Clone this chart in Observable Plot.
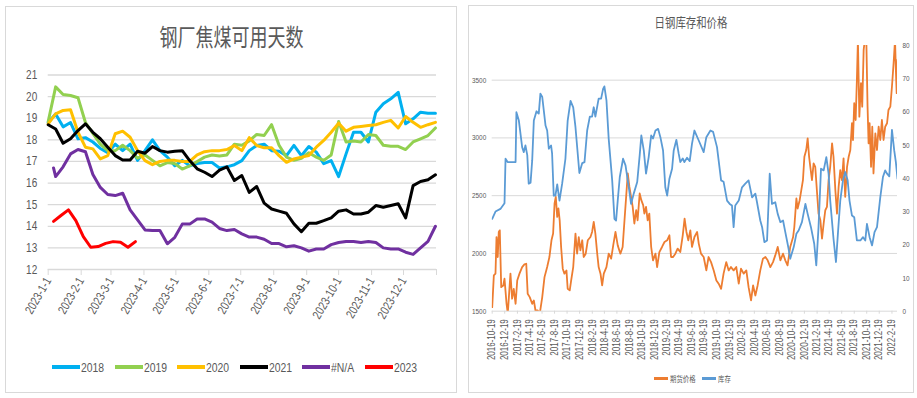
<!DOCTYPE html>
<html><head><meta charset="utf-8">
<script src="https://cdn.jsdelivr.net/npm/d3@7"></script>
<script src="https://cdn.jsdelivr.net/npm/@observablehq/plot@0.6"></script>
<style>
body{margin:0;background:#fff;width:917px;height:398px;overflow:hidden;position:relative;color:#595959}
.panel{position:absolute;border:1px solid #d9d9d9;box-sizing:border-box;background:#fff}
.title{position:absolute;white-space:nowrap;text-align:center;font-family:'Noto Sans CJK SC',sans-serif;color:#595959;transform-origin:center}
.legend{position:absolute;display:flex;align-items:center;white-space:nowrap}
.it{display:flex;align-items:center;flex:none}
.it i{display:inline-block;flex:none}
.it b{font-weight:normal;display:inline-block;transform-origin:left center}
.chart{position:absolute}
</style></head>
<body>
<div class="panel" style="left:5px;top:6px;width:452px;height:387px"></div>
<div class="panel" style="left:468px;top:5px;width:446px;height:388px"></div>
<div class="title" style="left:0;width:463px;top:23px;font-size:24px;line-height:26px;transform:scaleX(0.75)">钢厂焦煤可用天数</div>
<div class="title" style="left:468px;width:446px;top:15px;font-size:13px;line-height:14px;transform:scaleX(0.8)">日钢库存和价格</div>
<div class="chart" id="c1" style="left:0;top:60px"></div>
<div class="chart" id="c2" style="left:468px;top:30px"></div>
<div class="legend" id="lg1" style="left:52px;top:360px;height:14px"></div>
<div class="legend" id="lg2" style="left:654px;top:373px;height:10px;font-size:8.5px;font-family:'Noto Sans CJK SC',sans-serif"></div>
<script>
// ---------- Left chart data: 钢厂焦煤可用天数 (weekly, mapped onto 2023 calendar) ----------
const seriesNames = ["2018", "2019", "2020", "2021", "#N/A", "2023"];
const seriesColors = ["#00B0F0", "#92D050", "#FFC000", "#000000", "#7030A0", "#FF0000"];
const weekStart = "2023-01-01";
const y2018 = [18.8,19.2,18.6,18.8,18.05,18.1,17.9,17.6,17.4,17.8,17.5,17.8,17.05,17.5,18.0,17.5,17.2,16.8,17.05,16.8,16.9,16.95,16.95,16.7,16.75,16.85,17.04,17.5,17.74,17.8,17.5,17.47,17.27,17.74,17.27,17.69,17.43,16.9,17.04,16.3,17.35,18.35,18.35,17.9,19.28,19.67,19.9,20.2,18.74,18.97,19.28,19.23,19.23];
const y2019 = [18.85,20.45,20.1,20.05,19.95,18.8,18.3,17.8,17.5,17.5,17.75,17.5,17.15,17.3,17.05,16.8,16.95,16.9,16.65,16.8,17.0,17.2,17.3,17.25,17.3,17.8,17.75,17.95,18.25,18.2,18.7,17.75,17.2,17.05,17.15,17.4,17.2,17.05,17.3,18.85,17.9,17.95,17.9,18.25,18.2,17.75,17.7,17.7,17.55,17.9,18.05,18.2,18.55];
const y2020 = [18.74,19.2,19.36,19.39,18.35,17.66,17.58,17.12,17.27,18.28,18.4,18.12,17.5,17.04,16.85,17.0,17.05,17.05,17.0,17.0,17.3,17.45,17.5,17.5,17.55,17.74,17.5,18.1,17.74,17.63,17.63,17.27,16.96,17.12,17.2,17.27,17.66,17.97,18.35,18.77,18.4,18.58,18.62,18.66,18.7,18.81,18.9,18.55,19.08,18.81,18.58,18.7,18.81];
const y2021 = [18.7,18.5,17.84,18.05,18.43,18.74,18.35,18.05,17.66,17.27,17.07,17.07,17.47,17.38,17.69,17.5,17.43,17.47,17.5,17.04,16.66,16.5,16.3,16.6,16.75,16.12,16.35,15.57,15.84,15.07,14.8,14.7,14.6,14.11,13.75,14.14,14.14,14.26,14.39,14.7,14.76,14.57,14.57,14.65,14.96,14.88,14.96,15.04,14.39,15.88,16.07,16.15,16.38];
const naHead = [["2023-01-06", 16.7]];
const yNA = [null,16.3,16.75,17.35,17.55,17.45,16.4,15.8,15.47,15.42,15.53,14.76,14.3,13.83,13.8,13.8,13.19,13.49,14.1,14.1,14.34,14.34,14.19,13.9,13.8,13.85,13.65,13.5,13.5,13.4,13.2,13.2,13.05,13.1,13.0,12.85,12.95,12.95,13.15,13.25,13.3,13.3,13.25,13.3,13.25,13.0,12.95,12.95,12.8,12.7,13.0,13.3,14.0];
const redStart = "2023-01-06";
const y2023 = [14.23,14.5,14.76,14.26,13.52,13.03,13.06,13.21,13.29,13.26,13.03,13.29];
const leftYTicks = [12,13,14,15,16,17,18,19,20,21];

// ---------- Right chart data: 日钢库存和价格 ----------
const rightStart = "2016-10-19";
const rightEndDay = 1976;
// [days since 2016-10-19, 期货价格]
const price = [[0,1535],[8,1810],[16,1825],[21,2142],[27,1969],[32,2186],[37,2200],[44,1708],[54,1723],[60,1781],[70,1564],[76,1480],[89,1825],[97,1608],[105,1694],[114,1564],[122,1766],[133,1825],[146,1882],[157,1905],[166,1911],[173,1651],[183,1622],[195,1564],[203,1593],[211,1506],[222,1506],[232,1480],[244,1622],[255,1795],[268,1882],[279,1969],[289,2114],[297,2172],[304,2432],[310,2490],[317,2316],[323,2389],[329,2287],[336,2056],[344,1868],[352,1825],[362,1853],[368,1694],[378,1680],[385,1766],[395,1882],[406,2172],[414,1998],[422,2142],[430,2027],[439,2114],[446,1969],[456,1998],[466,2114],[479,2142],[487,2186],[495,2273],[503,2172],[512,1998],[519,1882],[528,1825],[536,1723],[544,1825],[557,1882],[568,1998],[580,1955],[590,2070],[601,2186],[612,2070],[625,1998],[636,2056],[645,2287],[653,2490],[661,2693],[669,2576],[677,2490],[685,2403],[693,2259],[702,2374],[709,2287],[719,2519],[727,2461],[736,2418],[742,2345],[750,2403],[758,2287],[766,2345],[775,2056],[784,1940],[796,1998],[804,1882],[815,2012],[828,2056],[840,2099],[853,2114],[864,2157],[872,1969],[882,1969],[893,1998],[904,2042],[917,2012],[929,2157],[938,2302],[947,2186],[956,2114],[966,2200],[974,2056],[986,2142],[999,2186],[1007,2085],[1018,1998],[1031,1969],[1044,1853],[1055,1969],[1067,1925],[1080,1853],[1093,1766],[1104,1738],[1116,1694],[1128,1825],[1141,1925],[1153,1853],[1164,1882],[1177,1853],[1190,1882],[1202,1738],[1213,1868],[1226,1825],[1239,1853],[1250,1708],[1262,1593],[1272,1723],[1283,1636],[1294,1723],[1307,1853],[1320,1955],[1332,1969],[1343,1940],[1356,1882],[1369,1925],[1380,1983],[1392,2056],[1405,1940],[1418,1998],[1429,1940],[1440,1897],[1453,2056],[1467,2142],[1473,2229],[1483,2476],[1489,2389],[1499,2461],[1507,2548],[1515,2634],[1522,2837],[1531,2895],[1538,2996],[1545,2837],[1551,2750],[1559,2634],[1567,2779],[1575,2750],[1584,2519],[1591,2345],[1600,2287],[1608,2128],[1616,2259],[1624,2374],[1632,2403],[1640,2634],[1648,2750],[1657,2953],[1664,2837],[1673,2548],[1681,2345],[1689,2576],[1697,2721],[1705,2634],[1713,2823],[1721,2490],[1730,2750],[1738,2837],[1746,2895],[1754,3127],[1759,2982],[1765,3300],[1772,3155],[1778,3503],[1783,3850],[1790,3184],[1798,3474],[1804,3271],[1811,3763],[1817,3850],[1824,3850],[1830,3271],[1835,2953],[1840,3127],[1847,2750],[1853,3097],[1859,2693],[1868,3040],[1876,2895],[1884,3097],[1892,2982],[1900,3155],[1908,2982],[1916,3097],[1925,3127],[1932,3242],[1941,3271],[1949,3445],[1957,3647],[1964,3850],[1968,3590],[1972,3387],[1976,3676]];
// [days since 2016-10-19, 库存]
const stock = [[0,27.8],[16,30.0],[40,30.8],[60,32.5],[65,45.9],[75,44.9],[114,44.9],[118,59.9],[130,57.4],[146,49.4],[154,47.9],[162,49.9],[171,47.0],[178,38.4],[187,38.7],[195,45.4],[203,57.4],[216,60.2],[227,59.5],[235,65.5],[244,64.5],[260,55.9],[268,54.4],[276,48.9],[287,49.9],[292,47.5],[300,34.8],[308,34.8],[317,38.2],[328,33.3],[341,38.4],[357,45.9],[368,57.4],[382,63.3],[395,61.4],[406,55.4],[425,41.6],[439,44.6],[450,44.9],[463,54.4],[476,58.6],[487,58.6],[495,61.4],[503,58.6],[519,64.0],[531,64.0],[541,67.0],[547,67.7],[557,63.5],[568,51.9],[585,39.4],[596,27.8],[604,27.3],[612,33.3],[622,40.4],[638,45.9],[650,43.9],[666,37.3],[677,32.3],[690,35.4],[707,38.9],[719,46.9],[727,52.9],[739,48.4],[750,41.4],[763,46.4],[775,52.9],[784,52.0],[796,54.4],[809,54.9],[820,52.4],[833,48.4],[844,37.3],[853,34.8],[864,39.9],[877,42.9],[885,48.4],[898,51.6],[909,47.5],[917,44.9],[929,46.0],[937,44.9],[950,46.2],[963,45.2],[974,50.4],[986,54.4],[1007,51.4],[1031,47.9],[1044,52.4],[1064,54.4],[1077,54.0],[1096,49.4],[1116,39.4],[1128,39.0],[1145,33.3],[1158,32.3],[1169,31.8],[1177,25.3],[1185,31.8],[1202,33.3],[1218,37.3],[1234,38.4],[1250,39.4],[1267,34.3],[1283,35.4],[1291,32.8],[1307,27.3],[1316,25.3],[1327,20.8],[1340,21.3],[1353,41.4],[1364,32.3],[1380,32.8],[1392,29.3],[1405,26.8],[1418,27.3],[1429,23.8],[1445,18.8],[1453,15.8],[1470,19.3],[1483,23.3],[1494,24.3],[1510,26.8],[1527,32.3],[1538,29.3],[1554,25.3],[1570,20.3],[1580,13.8],[1591,25.3],[1603,42.9],[1616,42.4],[1629,46.4],[1640,41.4],[1648,33.3],[1664,21.8],[1676,14.8],[1686,23.8],[1697,33.3],[1710,39.4],[1721,41.9],[1733,39.4],[1742,33.3],[1754,28.8],[1765,28.3],[1778,21.3],[1795,21.3],[1808,22.3],[1819,21.3],[1827,26.3],[1840,22.3],[1852,19.8],[1864,23.8],[1876,25.3],[1892,34.3],[1905,40.4],[1916,42.4],[1925,41.4],[1936,40.6],[1949,54.6],[1960,48.4],[1968,44.9],[1976,39.9]];
const priceTicks = [1500, 2000, 2500, 3000, 3500];
const priceDomain = [1500, 3800];
const stockTicks = [0, 10, 20, 30, 40, 50, 60, 70, 80];
const stockDomain = [0, 80];
const legend2 = [["期货价格", "#ED7D31"], ["库存", "#5B9BD5"]];

// ---------- font choice (narrow face if installed, else squeeze a regular face) ----------
function hasFont(f) {
  const c = document.createElement("canvas").getContext("2d");
  const t = "2018-10-19 #N/A abcdefg";
  c.font = "20px monospace"; const a = c.measureText(t).width;
  c.font = `20px '${f}', monospace`; return c.measureText(t).width !== a;
}
const narrow = hasFont("Liberation Sans Narrow");
const FONT = narrow ? "'Liberation Sans Narrow','Liberation Sans',sans-serif" : "'Liberation Sans',Arial,sans-serif";
const SQ = narrow ? 1 : 0.8;
function squeeze(svg) {
  if (SQ === 1) return;
  svg.querySelectorAll("g[aria-label$='tick label'] text").forEach(t => {
    const tr = t.getAttribute("transform") || "";
    t.setAttribute("transform", `${tr} scale(${SQ},1)`);
  });
}

// ---------- helpers ----------
const parse = s => new Date(s + "T00:00:00Z");
const fmtDate = d => `${d.getUTCFullYear()}-${d.getUTCMonth() + 1}-${d.getUTCDate()}`;
const weekly = (vals, start) => vals.map((v, i) => ({d: d3.utcDay.offset(parse(start), 7 * i), v})).filter(o => o.v != null);

// ---------- Left chart ----------
const leftSeries = [
  weekly(y2018, weekStart),
  weekly(y2019, weekStart),
  weekly(y2020, weekStart),
  weekly(y2021, weekStart),
  naHead.map(([s, v]) => ({d: parse(s), v})).concat(weekly(yNA, weekStart)),
  weekly(y2023, redStart)
];
const x0 = parse("2023-01-01"), x1 = parse("2024-01-01");
const monthTicks = d3.utcMonth.range(x0, d3.utcDay.offset(x1, 1));
const c1 = Plot.plot({
  width: 460, height: 279,
  marginLeft: 47.7, marginRight: 24, marginTop: 14.5, marginBottom: 70,
  x: {type: "utc", domain: [x0, x1]},
  y: {domain: [12, 21]},
  style: {fontFamily: FONT, fontSize: "12px", color: "#595959", background: "transparent", overflow: "visible"},
  marks: [
    Plot.ruleY(leftYTicks.slice(1), {stroke: "#d9d9d9", strokeWidth: 1.3}),
    Plot.ruleY([12], {stroke: "#d9d9d9", strokeWidth: 1.3}),
    Plot.axisY(leftYTicks, {tickSize: 0, tickPadding: 11, fontSize: 12.5, fill: "#595959", label: null, tickFormat: d => String(d)}),
    Plot.axisX(monthTicks, {tickSize: 6, tickPadding: 3, tickRotate: -60, stroke: "#d9d9d9", fill: "#595959", fontSize: 12.5, label: null,
      tickFormat: d => (+d >= +x1 ? "" : fmtDate(d))}),
    ...leftSeries.map((data, i) => Plot.line(data, {x: "d", y: "v", stroke: seriesColors[i], strokeWidth: 3, strokeLinejoin: "round", strokeLinecap: "round"}))
  ]
});
squeeze(c1);
document.getElementById("c1").append(c1);

// ---------- Right chart ----------
const r0 = parse(rightStart), r1 = d3.utcDay.offset(r0, rightEndDay);
const toPrice = v => priceDomain[0] + (v - stockDomain[0]) * (priceDomain[1] - priceDomain[0]) / (stockDomain[1] - stockDomain[0]);
const priceData = price.map(([d, v]) => ({d: d3.utcDay.offset(r0, d), v}));
const stockData = stock.map(([d, v]) => ({d: d3.utcDay.offset(r0, d), v}));
const rightXTicks = d3.range(33).map(i => d3.utcMonth.offset(r0, 2 * i));
const c2 = Plot.plot({
  width: 446, height: 341,
  marginLeft: 23.7, marginRight: 17, marginTop: 15, marginBottom: 60.3,
  x: {type: "utc", domain: [r0, r1]},
  y: {domain: priceDomain},
  style: {fontFamily: FONT, fontSize: "8px", color: "#595959", background: "transparent", overflow: "visible"},
  marks: [
    Plot.ruleY(priceTicks.slice(1), {stroke: "#d9d9d9", strokeWidth: 1}),
    Plot.ruleY([1500], {stroke: "#d9d9d9", strokeWidth: 1}),
    Plot.axisY(priceTicks, {anchor: "left", tickSize: 0, tickPadding: 6, fontSize: 8, fill: "#595959", label: null, tickFormat: d => String(d)}),
    Plot.axisY(stockTicks.map(toPrice), {anchor: "right", tickSize: 0, tickPadding: 5, fontSize: 8, fill: "#595959", label: null,
      tickFormat: (d, i) => String(stockTicks[i])}),
    Plot.axisX(rightXTicks, {tickSize: 3, tickPadding: 5, tickRotate: -90, stroke: "#d9d9d9", fill: "#595959", fontSize: 10, label: null, tickFormat: fmtDate}),
    Plot.line(priceData, {x: "d", y: "v", stroke: "#ED7D31", strokeWidth: 1.8, strokeLinejoin: "round", clip: true}),
    Plot.line(stockData, {x: "d", y: d => toPrice(d.v), stroke: "#5B9BD5", strokeWidth: 1.8, strokeLinejoin: "round", clip: true})
  ]
});
squeeze(c2);
document.getElementById("c2").append(c2);

// ---------- Legends ----------
const lg1 = document.getElementById("lg1");
lg1.style.fontFamily = FONT; lg1.style.fontSize = "13px";
seriesNames.forEach((n, i) => {
  const s = document.createElement("span"); s.className = "it"; s.style.width = "62.6px";
  s.innerHTML = `<i style="width:28px;height:4px;margin-right:1px;background:${seriesColors[i]}"></i><b style="transform:scaleX(${SQ})">${n}</b>`;
  lg1.append(s);
});
const lg2 = document.getElementById("lg2");
legend2.forEach(([n, c]) => {
  const s = document.createElement("span"); s.className = "it"; s.style.width = "48px";
  s.innerHTML = `<i style="width:14px;height:3px;margin-right:2px;background:${c}"></i><b style="transform:scaleX(0.75)">${n}</b>`;
  lg2.append(s);
});
</script>
</body></html>
